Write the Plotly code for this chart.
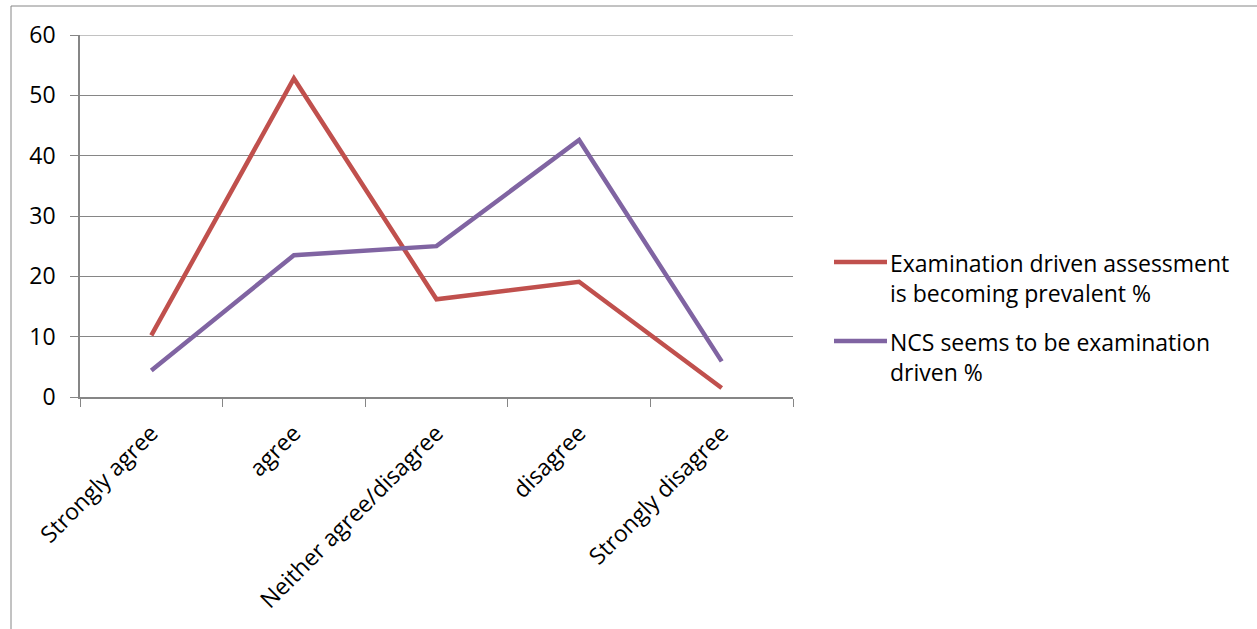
import plotly.graph_objects as go

categories = ["Strongly agree", "agree", "Neither agree/disagree", "disagree", "Strongly disagree"]
series_names = ["Examination driven assessment<br>is becoming prevalent %",
                "NCS seems to be examination<br>driven %"]
exam_assessment = [10.2, 52.8, 16.2, 19.1, 1.5]
ncs_exam = [4.4, 23.5, 25.0, 42.6, 5.9]
colors = ["#C0504D", "#8064A2"]
y_ticks = [0, 10, 20, 30, 40, 50, 60]

FONT = "Open Sans"
FS = 23
GRID = "#868686"
fig = go.Figure()
for name, vals, col in zip(series_names, [exam_assessment, ncs_exam], colors):
    fig.add_trace(go.Scatter(x=categories, y=vals, mode="lines", name=name,
                             line=dict(color=col, width=4.5), showlegend=False))

L, R, T, B = 80, 464, 35, 232
W, H = 1257, 629
pw, ph = W - L - R, H - T - B

def px_x(x):
    return (x - L) / pw

def px_y(y):
    return (H - B - y) / ph

# manual legend
legend_y = [262, 341]
shapes = []
annotations = []
for name, col, yy in zip(series_names, colors, legend_y):
    shapes.append(dict(type="line", xref="paper", yref="paper",
                       x0=px_x(834), x1=px_x(887), y0=px_y(yy), y1=px_y(yy),
                       line=dict(color=col, width=4.5)))
    annotations.append(dict(xref="paper", yref="paper", x=px_x(888), y=px_y(yy - 17),
                            xanchor="left", yanchor="top", align="left", showarrow=False,
                            text=name, font=dict(family=FONT, size=FS, color="black")))
# top gridline (hidden by plotly at the plot edge)
shapes.append(dict(type="line", xref="paper", yref="y", x0=0, x1=1,
                   y0=y_ticks[-1], y1=y_ticks[-1], layer="below",
                   line=dict(color=GRID, width=1.2)))
# outer chart border
shapes.append(dict(type="line", xref="paper", yref="paper", x0=px_x(11), x1=px_x(11),
                   y0=px_y(640), y1=px_y(6), line=dict(color=GRID, width=1)))
shapes.append(dict(type="line", xref="paper", yref="paper", x0=px_x(11), x1=px_x(1270),
                   y0=px_y(6), y1=px_y(6), line=dict(color=GRID, width=1)))

fig.update_layout(
    width=W, height=H,
    margin=dict(l=L, r=R, t=T, b=B, pad=0),
    paper_bgcolor="white", plot_bgcolor="white",
    font=dict(family=FONT, size=FS, color="black"),
    shapes=shapes, annotations=annotations,
    xaxis=dict(type="category", tickson="boundaries", ticks="outside", ticklen=8,
               tickcolor=GRID, showline=True, linecolor=GRID, linewidth=1.5,
               showgrid=False, tickangle=-45, range=[-0.5, 4.5], zeroline=False,
               ticklabelstandoff=12),
    yaxis=dict(range=[0, 60], tickvals=y_ticks, ticks="outside", ticklen=8,
               tickcolor=GRID, showline=True, linecolor=GRID, linewidth=1.5,
               showgrid=True, gridcolor=GRID, gridwidth=1.2, zeroline=False,
               ticklabelstandoff=10),
)
fig.write_html("out.html")
